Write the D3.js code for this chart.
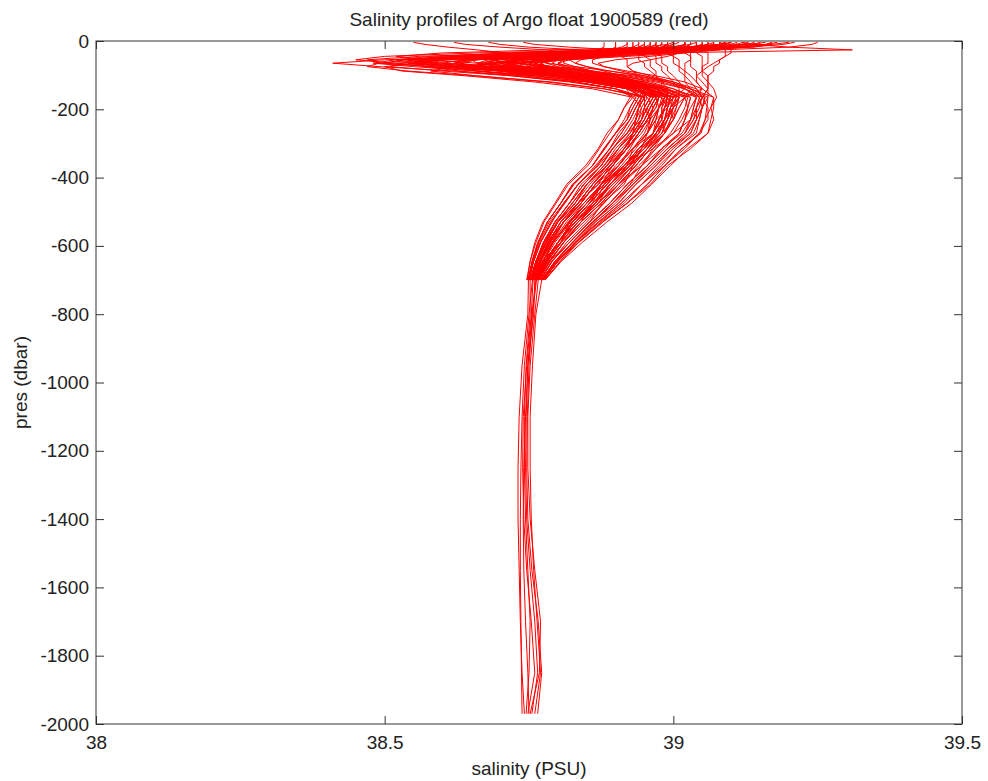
<!DOCTYPE html>
<html>
<head>
<meta charset="utf-8">
<script src="https://cdn.jsdelivr.net/npm/d3@7"></script>
<style>
  html, body { margin: 0; padding: 0; background: #fff; }
  svg { display: block; }
  text { font-family: "Liberation Sans", Arial, Helvetica, sans-serif; fill: #222; }
</style>
</head>
<body>
<svg id="chart" width="988" height="781"></svg>
<script>
// ---------- data ----------
const titleText = "Salinity profiles of Argo float 1900589 (red)";
const xLabel = "salinity (PSU)";
const yLabel = "pres (dbar)";
const xTicks = [38, 38.5, 39, 39.5];
const yTicks = [0, -200, -400, -600, -800, -1000, -1200, -1400, -1600, -1800, -2000];

// pressure levels (dbar) shared by all profiles
const presLevels = [4, 10, 18, 26, 35, 45, 55, 65, 75, 88, 102, 120, 140, 165, 195, 230, 270, 315, 365, 420, 475, 530, 590, 645, 700];
// extra levels of the deep profiles
const deepLevels = [800, 950, 1100, 1250, 1400, 1550, 1700, 1850, 1970];

// summer profiles with a strong fresh sub-surface minimum
const summerStrong = [
  [39.15, 39.15, 39.12, 39.02, 38.84, 38.66, 38.52, 38.48, 38.55, 38.66, 38.76, 38.85, 38.92, 38.99, 38.985, 38.975, 38.965, 38.95, 38.915, 38.875, 38.855, 38.825, 38.80, 38.778, 38.762],
  [39.12, 39.14, 39.20, 39.31, 38.98, 38.74, 38.60, 38.56, 38.62, 38.74, 38.84, 38.92, 38.98, 39.03, 39.025, 39.02, 39.01, 38.985, 38.955, 38.92, 38.89, 38.855, 38.82, 38.79, 38.77],
  [39.06, 39.06, 39.04, 38.96, 38.82, 38.66, 38.50, 38.41, 38.49, 38.62, 38.74, 38.83, 38.90, 38.945, 38.935, 38.925, 38.905, 38.89, 38.865, 38.835, 38.81, 38.79, 38.77, 38.758, 38.75],
  [39.18, 39.16, 39.10, 38.94, 38.78, 38.62, 38.53, 38.50, 38.58, 38.70, 38.80, 38.88, 38.94, 38.975, 38.965, 38.96, 38.945, 38.92, 38.895, 38.865, 38.84, 38.81, 38.786, 38.77, 38.758],
  [39.17, 39.17, 39.14, 39.05, 38.86, 38.68, 38.57, 38.54, 38.60, 38.71, 38.82, 38.91, 38.98, 39.055, 39.05, 39.045, 39.04, 39.005, 38.975, 38.945, 38.91, 38.87, 38.83, 38.80, 38.775],
  [39.10, 39.09, 39.06, 38.98, 38.80, 38.62, 38.55, 38.60, 38.70, 38.79, 38.86, 38.92, 38.96, 38.965, 38.955, 38.945, 38.93, 38.905, 38.885, 38.85, 38.83, 38.80, 38.78, 38.765, 38.755],
  [39.14, 39.14, 39.11, 38.96, 38.74, 38.56, 38.47, 38.49, 38.58, 38.70, 38.80, 38.89, 38.95, 39.005, 39.00, 38.99, 38.975, 38.955, 38.925, 38.895, 38.865, 38.835, 38.805, 38.782, 38.765],
  [39.08, 39.09, 39.08, 39.06, 38.94, 38.76, 38.60, 38.52, 38.51, 38.60, 38.72, 38.83, 38.90, 38.935, 38.925, 38.915, 38.90, 38.88, 38.86, 38.825, 38.805, 38.782, 38.765, 38.755, 38.748],
  [39.25, 39.24, 39.20, 39.08, 38.90, 38.72, 38.60, 38.55, 38.57, 38.66, 38.78, 38.88, 38.95, 39.00, 38.99, 38.985, 38.97, 38.95, 38.92, 38.89, 38.865, 38.83, 38.80, 38.78, 38.763],
  [39.12, 39.12, 39.10, 39.02, 38.88, 38.70, 38.56, 38.49, 38.47, 38.54, 38.66, 38.79, 38.88, 38.95, 38.94, 38.935, 38.92, 38.895, 38.875, 38.845, 38.82, 38.795, 38.775, 38.762, 38.752],
  [39.21, 39.19, 39.13, 38.99, 38.80, 38.64, 38.54, 38.58, 38.66, 38.76, 38.85, 38.93, 38.99, 39.025, 39.02, 39.01, 38.995, 38.97, 38.945, 38.91, 38.88, 38.85, 38.815, 38.79, 38.768],
  [39.09, 39.08, 39.03, 38.90, 38.72, 38.58, 38.52, 38.56, 38.64, 38.74, 38.84, 38.91, 38.95, 38.97, 38.96, 38.95, 38.935, 38.915, 38.89, 38.86, 38.835, 38.805, 38.783, 38.768, 38.756]
];

// summer / autumn profiles with a moderate minimum
const summerModerate = [
  [39.06, 39.06, 39.05, 39.00, 38.90, 38.78, 38.70, 38.67, 38.69, 38.76, 38.84, 38.91, 38.96, 38.985, 38.975, 38.97, 38.955, 38.93, 38.905, 38.875, 38.845, 38.82, 38.79, 38.775, 38.76],
  [39.03, 39.03, 39.02, 38.96, 38.84, 38.72, 38.65, 38.66, 38.72, 38.80, 38.88, 38.95, 39.00, 39.04, 39.035, 39.03, 39.02, 38.99, 38.96, 38.925, 38.895, 38.86, 38.825, 38.795, 38.772],
  [39.10, 39.09, 39.07, 39.00, 38.90, 38.80, 38.72, 38.68, 38.66, 38.70, 38.78, 38.86, 38.92, 38.95, 38.94, 38.93, 38.915, 38.895, 38.875, 38.84, 38.82, 38.795, 38.775, 38.763, 38.752],
  [39.00, 39.00, 38.99, 38.94, 38.84, 38.72, 38.64, 38.62, 38.67, 38.76, 38.85, 38.92, 38.97, 38.995, 38.99, 38.985, 38.975, 38.945, 38.925, 38.89, 38.86, 38.83, 38.80, 38.78, 38.764],
  [39.08, 39.08, 39.07, 39.04, 38.96, 38.84, 38.74, 38.68, 38.64, 38.66, 38.74, 38.83, 38.90, 38.93, 38.915, 38.905, 38.89, 38.872, 38.852, 38.818, 38.797, 38.776, 38.762, 38.752, 38.747],
  [39.02, 39.02, 39.01, 38.95, 38.82, 38.72, 38.68, 38.72, 38.79, 38.86, 38.93, 38.99, 39.03, 39.06, 39.058, 39.055, 39.048, 39.015, 38.985, 38.955, 38.92, 38.878, 38.836, 38.804, 38.777],
  [39.12, 39.11, 39.08, 38.98, 38.86, 38.76, 38.69, 38.70, 38.75, 38.81, 38.87, 38.93, 38.97, 38.99, 38.98, 38.98, 38.965, 38.94, 38.915, 38.885, 38.855, 38.825, 38.80, 38.777, 38.762],
  [39.04, 39.04, 39.04, 39.01, 38.93, 38.82, 38.74, 38.70, 38.70, 38.75, 38.83, 38.90, 38.95, 38.975, 38.965, 38.955, 38.94, 38.92, 38.895, 38.865, 38.84, 38.81, 38.787, 38.77, 38.758],
  [38.98, 38.98, 38.97, 38.93, 38.84, 38.74, 38.66, 38.63, 38.65, 38.72, 38.81, 38.89, 38.94, 38.96, 38.95, 38.94, 38.925, 38.905, 38.88, 38.85, 38.825, 38.80, 38.78, 38.765, 38.754],
  [39.07, 39.07, 39.06, 39.02, 38.92, 38.80, 38.72, 38.73, 38.78, 38.85, 38.92, 38.98, 39.02, 39.045, 39.04, 39.04, 39.03, 38.995, 38.97, 38.935, 38.905, 38.865, 38.83, 38.80, 38.774],
  [39.14, 39.13, 39.09, 39.01, 38.90, 38.80, 38.73, 38.69, 38.68, 38.73, 38.81, 38.89, 38.95, 39.005, 38.995, 38.99, 38.98, 38.955, 38.93, 38.90, 38.87, 38.835, 38.805, 38.782, 38.765],
  [39.01, 39.00, 38.98, 38.93, 38.84, 38.74, 38.66, 38.62, 38.61, 38.66, 38.76, 38.85, 38.92, 38.945, 38.935, 38.925, 38.91, 38.89, 38.868, 38.835, 38.812, 38.788, 38.77, 38.758, 38.75],
  [39.05, 39.05, 39.03, 38.97, 38.86, 38.75, 38.69, 38.68, 38.71, 38.78, 38.86, 38.93, 38.98, 39.01, 39.005, 39.00, 38.985, 38.96, 38.935, 38.905, 38.875, 38.84, 38.81, 38.785, 38.766],
  [39.09, 39.09, 39.08, 39.05, 38.99, 38.88, 38.78, 38.72, 38.70, 38.72, 38.79, 38.87, 38.93, 38.97, 38.96, 38.95, 38.935, 38.915, 38.89, 38.86, 38.835, 38.805, 38.783, 38.768, 38.756]
];

// profiles with a weak minimum
const summerWeak = [
  [38.95, 38.95, 38.94, 38.92, 38.87, 38.82, 38.79, 38.78, 38.80, 38.84, 38.89, 38.94, 38.97, 38.995, 38.99, 38.985, 38.97, 38.95, 38.92, 38.89, 38.865, 38.83, 38.80, 38.78, 38.763],
  [38.98, 38.98, 38.97, 38.95, 38.90, 38.85, 38.81, 38.80, 38.82, 38.86, 38.91, 38.96, 39.00, 39.03, 39.025, 39.02, 39.01, 38.98, 38.955, 38.92, 38.89, 38.855, 38.82, 38.79, 38.77],
  [38.92, 38.92, 38.91, 38.89, 38.85, 38.80, 38.77, 38.76, 38.78, 38.82, 38.87, 38.91, 38.94, 38.935, 38.925, 38.92, 38.90, 38.88, 38.86, 38.828, 38.805, 38.782, 38.766, 38.756, 38.749],
  [39.00, 39.00, 39.00, 38.98, 38.93, 38.87, 38.82, 38.80, 38.81, 38.85, 38.91, 38.97, 39.02, 39.055, 39.05, 39.045, 39.035, 39.005, 38.98, 38.945, 38.915, 38.872, 38.832, 38.80, 38.775],
  [38.94, 38.94, 38.93, 38.90, 38.84, 38.78, 38.75, 38.74, 38.75, 38.79, 38.85, 38.90, 38.94, 38.95, 38.94, 38.935, 38.92, 38.895, 38.875, 38.845, 38.82, 38.795, 38.775, 38.762, 38.752],
  [38.97, 38.97, 38.96, 38.94, 38.89, 38.84, 38.80, 38.79, 38.81, 38.85, 38.90, 38.95, 38.99, 39.01, 39.005, 38.995, 38.985, 38.96, 38.935, 38.905, 38.875, 38.84, 38.81, 38.785, 38.766],
  [38.90, 38.90, 38.90, 38.89, 38.86, 38.83, 38.81, 38.81, 38.83, 38.86, 38.90, 38.94, 38.97, 38.985, 38.975, 38.965, 38.955, 38.93, 38.905, 38.875, 38.85, 38.82, 38.792, 38.774, 38.76],
  [39.02, 39.02, 39.01, 38.98, 38.92, 38.85, 38.79, 38.76, 38.76, 38.80, 38.86, 38.92, 38.96, 38.975, 38.97, 38.955, 38.94, 38.92, 38.895, 38.865, 38.84, 38.81, 38.786, 38.77, 38.757],
  [38.55, 38.57, 38.61, 38.66, 38.71, 38.74, 38.73, 38.75, 38.79, 38.84, 38.89, 38.93, 38.96, 38.97, 38.96, 38.95, 38.935, 38.915, 38.89, 38.86, 38.835, 38.805, 38.783, 38.768, 38.756],
  [38.96, 38.96, 38.96, 38.94, 38.91, 38.87, 38.84, 38.83, 38.85, 38.89, 38.94, 38.99, 39.03, 39.07, 39.07, 39.065, 39.06, 39.025, 38.995, 38.962, 38.928, 38.885, 38.842, 38.806, 38.778],
  [38.99, 38.99, 38.98, 38.95, 38.88, 38.80, 38.76, 38.76, 38.79, 38.84, 38.89, 38.94, 38.98, 38.99, 38.985, 38.975, 38.965, 38.94, 38.915, 38.885, 38.855, 38.825, 38.80, 38.777, 38.762],
  [38.93, 38.93, 38.93, 38.92, 38.88, 38.82, 38.78, 38.77, 38.78, 38.81, 38.86, 38.91, 38.95, 38.945, 38.935, 38.925, 38.91, 38.89, 38.868, 38.835, 38.812, 38.788, 38.77, 38.758, 38.75]
];

// profiles with a fresher surface layer
const freshSurface = [
  [38.62, 38.64, 38.70, 38.78, 38.82, 38.80, 38.76, 38.74, 38.76, 38.81, 38.87, 38.92, 38.96, 38.975, 38.965, 38.955, 38.94, 38.92, 38.895, 38.865, 38.84, 38.81, 38.787, 38.77, 38.758],
  [38.68, 38.70, 38.75, 38.84, 38.88, 38.84, 38.78, 38.72, 38.70, 38.74, 38.82, 38.90, 38.95, 38.99, 38.985, 38.98, 38.965, 38.94, 38.915, 38.885, 38.855, 38.825, 38.80, 38.777, 38.762],
  [38.74, 38.76, 38.82, 38.90, 38.93, 38.88, 38.80, 38.74, 38.73, 38.77, 38.84, 38.91, 38.96, 38.96, 38.95, 38.945, 38.93, 38.905, 38.88, 38.85, 38.825, 38.80, 38.78, 38.765, 38.754]
];

// winter well-mixed profiles
const winterMixed = [
  [38.96, 38.96, 38.96, 38.96, 38.96, 38.97, 38.97, 38.97, 38.98, 38.98, 38.99, 39.00, 39.01, 39.01, 38.995, 38.985, 38.97, 38.95, 38.92, 38.89, 38.865, 38.83, 38.80, 38.78, 38.763],
  [39.05, 39.05, 39.05, 39.05, 39.06, 39.06, 39.06, 39.06, 39.05, 39.05, 39.05, 39.06, 39.07, 39.075, 39.065, 39.055, 39.045, 39.015, 38.985, 38.955, 38.92, 38.878, 38.836, 38.804, 38.777],
  [38.90, 38.90, 38.90, 38.90, 38.91, 38.91, 38.92, 38.92, 38.92, 38.93, 38.94, 38.95, 38.95, 38.94, 38.93, 38.92, 38.90, 38.882, 38.86, 38.826, 38.805, 38.782, 38.766, 38.756, 38.749],
  [39.08, 39.08, 39.08, 39.09, 39.09, 39.09, 39.08, 39.08, 39.07, 39.07, 39.06, 39.06, 39.06, 39.05, 39.045, 39.035, 39.02, 38.99, 38.96, 38.93, 38.895, 38.86, 38.825, 38.795, 38.772],
  [39.02, 39.02, 39.02, 39.02, 39.02, 39.03, 39.03, 39.03, 39.03, 39.04, 39.04, 39.05, 39.06, 39.06, 39.05, 39.04, 39.03, 39.00, 38.97, 38.935, 38.905, 38.865, 38.83, 38.80, 38.774],
  [38.93, 38.93, 38.93, 38.93, 38.94, 38.94, 38.94, 38.95, 38.95, 38.96, 38.97, 38.98, 38.99, 38.99, 38.975, 38.965, 38.955, 38.93, 38.905, 38.875, 38.85, 38.82, 38.792, 38.774, 38.76],
  [39.10, 39.10, 39.10, 39.10, 39.10, 39.09, 39.08, 39.07, 39.06, 39.05, 39.04, 39.04, 39.05, 39.04, 39.03, 39.02, 39.01, 38.98, 38.955, 38.92, 38.89, 38.855, 38.82, 38.79, 38.77],
  [38.99, 38.99, 38.99, 38.99, 38.99, 39.00, 39.00, 39.00, 39.01, 39.01, 39.02, 39.02, 39.03, 39.02, 39.01, 39.00, 38.985, 38.96, 38.935, 38.905, 38.875, 38.84, 38.81, 38.785, 38.766],
  [39.04, 39.04, 39.04, 39.03, 39.03, 39.03, 39.03, 39.02, 39.02, 39.02, 39.03, 39.04, 39.05, 39.02, 39.00, 38.99, 38.98, 38.955, 38.93, 38.90, 38.87, 38.835, 38.805, 38.782, 38.765],
  [38.95, 38.95, 38.95, 38.95, 38.95, 38.95, 38.96, 38.96, 38.96, 38.97, 38.97, 38.98, 38.98, 38.965, 38.955, 38.945, 38.93, 38.905, 38.885, 38.85, 38.83, 38.80, 38.78, 38.765, 38.755]
];

// transitional profiles (varied minimum depth, crossing intermediate layer)
const transitional = [
  [39.04, 39.03, 38.99, 38.90, 38.78, 38.66, 38.58, 38.55, 38.57, 38.63, 38.72, 38.82, 38.90, 38.95, 38.95, 38.96, 38.955, 38.945, 38.93, 38.915, 38.877, 38.855, 38.82, 38.786, 38.765],
  [39.11, 39.10, 39.06, 38.95, 38.84, 38.78, 38.76, 38.78, 38.83, 38.89, 38.95, 39.00, 39.04, 39.05, 39.04, 39.03, 39.00, 38.965, 38.92, 38.875, 38.845, 38.81, 38.78, 38.765, 38.755],
  [38.97, 38.97, 38.96, 38.93, 38.86, 38.74, 38.64, 38.60, 38.62, 38.70, 38.80, 38.88, 38.93, 38.98, 38.99, 38.97, 38.965, 38.93, 38.92, 38.875, 38.86, 38.82, 38.805, 38.772, 38.76],
  [39.08, 39.08, 39.07, 39.03, 38.94, 38.80, 38.66, 38.56, 38.50, 38.53, 38.64, 38.76, 38.86, 38.93, 38.945, 38.935, 38.93, 38.915, 38.885, 38.86, 38.835, 38.81, 38.79, 38.77, 38.757],
  [39.16, 39.13, 39.00, 38.78, 38.60, 38.52, 38.58, 38.66, 38.74, 38.81, 38.87, 38.92, 38.96, 39.00, 38.995, 39.00, 38.985, 38.955, 38.93, 38.895, 38.86, 38.84, 38.806, 38.782, 38.765],
  [39.06, 39.06, 39.06, 39.05, 39.02, 38.96, 38.90, 38.87, 38.88, 38.92, 38.97, 39.02, 39.05, 39.07, 39.065, 39.07, 39.06, 39.03, 38.99, 38.96, 38.92, 38.875, 38.835, 38.80, 38.775],
  [38.92, 38.92, 38.92, 38.90, 38.85, 38.78, 38.72, 38.70, 38.72, 38.77, 38.83, 38.88, 38.92, 38.925, 38.915, 38.905, 38.885, 38.87, 38.848, 38.815, 38.795, 38.774, 38.76, 38.752, 38.746],
  [39.13, 39.12, 39.09, 39.02, 38.92, 38.82, 38.74, 38.71, 38.73, 38.79, 38.86, 38.92, 38.96, 38.985, 38.98, 38.98, 38.985, 38.965, 38.945, 38.925, 38.895, 38.862, 38.826, 38.795, 38.772],
  [38.99, 38.99, 38.98, 38.96, 38.91, 38.83, 38.75, 38.70, 38.69, 38.72, 38.79, 38.86, 38.92, 38.965, 38.955, 38.96, 38.93, 38.92, 38.89, 38.87, 38.835, 38.81, 38.784, 38.77, 38.756],
  [39.20, 39.17, 39.10, 38.96, 38.78, 38.64, 38.58, 38.60, 38.68, 38.77, 38.85, 38.92, 38.97, 39.02, 39.01, 39.00, 38.98, 38.95, 38.915, 38.87, 38.835, 38.80, 38.776, 38.762, 38.752],
  [39.00, 39.00, 39.00, 39.00, 39.00, 39.00, 39.01, 39.01, 39.01, 39.02, 39.02, 39.03, 39.04, 39.05, 39.06, 39.06, 39.045, 39.02, 38.985, 38.945, 38.91, 38.87, 38.83, 38.798, 38.773],
  [39.07, 39.07, 39.05, 38.99, 38.88, 38.76, 38.68, 38.66, 38.70, 38.78, 38.86, 38.93, 38.98, 39.01, 38.995, 38.99, 38.97, 38.955, 38.925, 38.89, 38.87, 38.83, 38.80, 38.78, 38.763],
  [39.10, 39.08, 39.02, 38.88, 38.66, 38.50, 38.45, 38.52, 38.62, 38.72, 38.81, 38.88, 38.94, 38.97, 38.975, 38.96, 38.95, 38.93, 38.90, 38.875, 38.845, 38.815, 38.79, 38.77, 38.758],
  [39.03, 39.03, 39.02, 38.99, 38.93, 38.86, 38.80, 38.77, 38.77, 38.80, 38.86, 38.92, 38.97, 38.945, 38.94, 38.935, 38.93, 38.915, 38.895, 38.875, 38.855, 38.826, 38.80, 38.778, 38.762],
  [39.15, 39.14, 39.12, 39.07, 38.97, 38.84, 38.74, 38.68, 38.67, 38.71, 38.79, 38.87, 38.94, 38.99, 39.00, 38.985, 38.97, 38.945, 38.915, 38.88, 38.85, 38.822, 38.795, 38.775, 38.76],
  [38.94, 38.94, 38.94, 38.93, 38.91, 38.88, 38.86, 38.86, 38.88, 38.91, 38.95, 38.99, 39.02, 39.04, 39.035, 39.03, 39.015, 38.98, 38.945, 38.905, 38.87, 38.835, 38.80, 38.78, 38.763],
  [39.05, 39.05, 39.05, 39.04, 38.99, 38.90, 38.80, 38.70, 38.62, 38.58, 38.66, 38.78, 38.88, 38.955, 38.965, 38.955, 38.94, 38.925, 38.905, 38.865, 38.84, 38.81, 38.787, 38.77, 38.757],
  [39.09, 39.08, 39.06, 39.01, 38.94, 38.86, 38.80, 38.77, 38.78, 38.82, 38.88, 38.94, 38.99, 39.02, 39.025, 39.015, 39.00, 38.97, 38.94, 38.91, 38.88, 38.845, 38.81, 38.787, 38.767],
  [38.88, 38.88, 38.88, 38.87, 38.85, 38.83, 38.82, 38.83, 38.85, 38.88, 38.91, 38.94, 38.96, 38.96, 38.95, 38.945, 38.935, 38.91, 38.885, 38.855, 38.83, 38.80, 38.778, 38.764, 38.753],
  [39.11, 39.11, 39.10, 39.08, 39.02, 38.92, 38.82, 38.74, 38.70, 38.70, 38.76, 38.85, 38.93, 38.98, 38.975, 38.97, 38.955, 38.935, 38.91, 38.88, 38.85, 38.818, 38.792, 38.773, 38.759],
  [39.00, 38.99, 38.95, 38.86, 38.72, 38.60, 38.54, 38.55, 38.61, 38.70, 38.79, 38.87, 38.93, 38.965, 38.955, 38.945, 38.92, 38.895, 38.87, 38.835, 38.81, 38.785, 38.768, 38.756, 38.749],
  [39.02, 39.02, 39.02, 39.02, 39.01, 38.99, 38.96, 38.93, 38.92, 38.93, 38.96, 39.00, 39.03, 39.045, 39.05, 39.04, 39.025, 38.995, 38.965, 38.93, 38.90, 38.86, 38.826, 38.797, 38.773],
  [39.07, 39.06, 39.03, 38.96, 38.86, 38.77, 38.72, 38.73, 38.77, 38.83, 38.89, 38.94, 38.98, 38.995, 38.985, 38.975, 38.975, 38.94, 38.925, 38.88, 38.865, 38.825, 38.805, 38.778, 38.764],
  [38.96, 38.96, 38.95, 38.92, 38.86, 38.79, 38.74, 38.72, 38.73, 38.77, 38.83, 38.89, 38.94, 38.955, 38.945, 38.94, 38.925, 38.90, 38.88, 38.85, 38.825, 38.798, 38.777, 38.763, 38.753]
];

// deep profiles: upper part on presLevels
const deepUpper = [
  [39.02, 39.02, 39.00, 38.94, 38.82, 38.70, 38.63, 38.63, 38.68, 38.76, 38.84, 38.91, 38.96, 38.97, 38.96, 38.95, 38.935, 38.915, 38.89, 38.86, 38.835, 38.805, 38.783, 38.768, 38.756],
  [38.97, 38.97, 38.97, 38.97, 38.97, 38.98, 38.98, 38.98, 38.99, 38.99, 39.00, 39.01, 39.02, 39.00, 38.985, 38.975, 38.965, 38.94, 38.915, 38.885, 38.855, 38.825, 38.80, 38.777, 38.762],
  [39.13, 39.12, 39.08, 38.97, 38.80, 38.64, 38.56, 38.58, 38.65, 38.75, 38.84, 38.92, 38.97, 39.01, 39.00, 38.995, 38.985, 38.96, 38.935, 38.905, 38.875, 38.84, 38.81, 38.785, 38.766],
  [38.95, 38.95, 38.94, 38.92, 38.87, 38.80, 38.76, 38.75, 38.77, 38.82, 38.87, 38.92, 38.95, 38.95, 38.94, 38.935, 38.92, 38.895, 38.875, 38.845, 38.82, 38.795, 38.775, 38.762, 38.752],
  [39.06, 39.06, 39.05, 39.00, 38.90, 38.78, 38.70, 38.66, 38.67, 38.73, 38.81, 38.88, 38.93, 38.94, 38.93, 38.92, 38.90, 38.88, 38.86, 38.826, 38.805, 38.782, 38.766, 38.756, 38.749],
  [39.04, 39.04, 39.04, 39.04, 39.04, 39.05, 39.05, 39.05, 39.05, 39.05, 39.06, 39.06, 39.06, 39.05, 39.04, 39.035, 39.02, 38.99, 38.96, 38.93, 38.895, 38.86, 38.825, 38.795, 38.772],
  [39.17, 39.16, 39.12, 39.00, 38.80, 38.64, 38.57, 38.56, 38.62, 38.72, 38.82, 38.90, 38.96, 38.995, 38.99, 38.985, 38.97, 38.95, 38.92, 38.89, 38.865, 38.83, 38.80, 38.78, 38.763],
  [38.99, 38.99, 38.98, 38.95, 38.88, 38.79, 38.73, 38.71, 38.74, 38.80, 38.87, 38.93, 38.97, 38.985, 38.975, 38.965, 38.955, 38.93, 38.905, 38.875, 38.85, 38.82, 38.792, 38.774, 38.76],
  [39.09, 39.09, 39.07, 39.02, 38.92, 38.80, 38.73, 38.70, 38.72, 38.78, 38.85, 38.92, 38.96, 38.975, 38.97, 38.955, 38.94, 38.92, 38.895, 38.865, 38.84, 38.81, 38.786, 38.77, 38.757]
];
// deep profiles: lower part on deepLevels
const deepLower = [
  [38.750, 38.742, 38.738, 38.736, 38.735, 38.735, 38.736, 38.737, 38.738],
  [38.755, 38.748, 38.745, 38.744, 38.746, 38.752, 38.760, 38.765, 38.755],
  [38.760, 38.752, 38.748, 38.748, 38.752, 38.760, 38.770, 38.768, 38.752],
  [38.752, 38.745, 38.742, 38.742, 38.744, 38.748, 38.752, 38.750, 38.745],
  [38.748, 38.738, 38.733, 38.731, 38.731, 38.733, 38.735, 38.738, 38.742],
  [38.762, 38.756, 38.752, 38.752, 38.754, 38.758, 38.764, 38.770, 38.760],
  [38.756, 38.750, 38.747, 38.746, 38.748, 38.755, 38.766, 38.772, 38.765],
  [38.758, 38.748, 38.744, 38.741, 38.740, 38.741, 38.744, 38.748, 38.750],
  [38.754, 38.746, 38.740, 38.739, 38.741, 38.746, 38.754, 38.760, 38.748]
];

// ---------- chart ----------
const W = 988, H = 781;
const margin = { left: 96, right: 26, top: 41, bottom: 57 };
const svg = d3.select("#chart");

const x = d3.scaleLinear().domain([38, 39.5]).range([margin.left, W - margin.right]);
const y = d3.scaleLinear().domain([-2000, 0]).range([H - margin.bottom, margin.top]);

const shallow = [].concat(summerStrong, summerModerate, summerWeak, freshSurface, winterMixed, transitional)
  .map(s => s.map((v, i) => [v, -presLevels[i]]));
const deep = deepUpper.map((up, k) => {
  const a = up.map((v, i) => [v, -presLevels[i]]);
  const b = deepLower[k].map((v, i) => [v, -deepLevels[i]]);
  return a.concat(b);
});
const allProfiles = shallow.concat(deep);

const line = d3.line().x(d => x(d[0])).y(d => y(d[1]));

svg.append("g").selectAll("path.prof")
  .data(allProfiles)
  .join("path")
  .attr("class", "prof")
  .attr("d", line)
  .attr("fill", "none")
  .attr("stroke", "#ff0000")
  .attr("stroke-width", 1);

const axisColor = "#333";
const fontSize = "19px";
const tl = 8;
const fmt = d => String(d);

svg.append("g")
  .attr("transform", `translate(${margin.left},0)`)
  .call(d3.axisLeft(y).tickValues(yTicks).tickFormat(fmt).tickSizeInner(-tl).tickSizeOuter(0).tickPadding(7));
svg.append("g")
  .attr("transform", `translate(0,${H - margin.bottom})`)
  .call(d3.axisBottom(x).tickValues(xTicks).tickFormat(fmt).tickSizeInner(-tl).tickSizeOuter(0).tickPadding(12));
svg.append("g")
  .attr("transform", `translate(${W - margin.right},0)`)
  .call(d3.axisRight(y).tickValues(yTicks).tickFormat("").tickSizeInner(-tl).tickSizeOuter(0));
svg.append("g")
  .attr("transform", `translate(0,${margin.top})`)
  .call(d3.axisTop(x).tickValues(xTicks).tickFormat("").tickSizeInner(-tl).tickSizeOuter(0));

svg.selectAll(".domain").remove();
svg.selectAll(".tick line").attr("stroke", axisColor);
svg.selectAll(".tick text")
  .style("font-family", "'Liberation Sans', Arial, sans-serif")
  .style("font-size", fontSize)
  .attr("fill", "#222");

svg.append("rect")
  .attr("x", margin.left).attr("y", margin.top)
  .attr("width", W - margin.left - margin.right)
  .attr("height", H - margin.top - margin.bottom)
  .attr("fill", "none").attr("stroke", axisColor).attr("stroke-width", 1);

svg.append("text")
  .attr("x", (margin.left + W - margin.right) / 2).attr("y", 26)
  .attr("text-anchor", "middle").style("font-size", fontSize)
  .text(titleText);
svg.append("text")
  .attr("x", (margin.left + W - margin.right) / 2).attr("y", 775)
  .attr("text-anchor", "middle").style("font-size", fontSize)
  .text(xLabel);
svg.append("text")
  .attr("transform", `translate(27,${(margin.top + H - margin.bottom) / 2}) rotate(-90)`)
  .attr("text-anchor", "middle").style("font-size", fontSize)
  .text(yLabel);
</script>
</body>
</html>
